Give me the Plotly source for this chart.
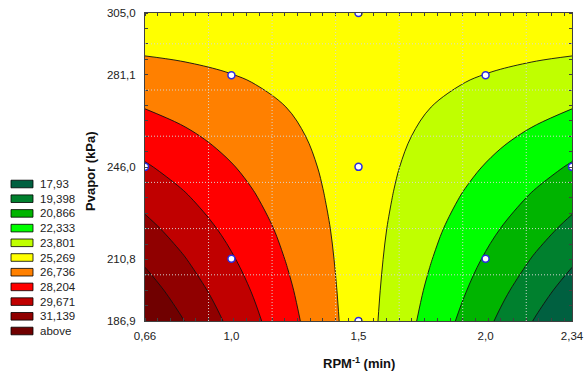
import numpy as np
import plotly.graph_objects as go

# ---------------- data ----------------
x_grid = [0.66, 0.80, 0.94, 1.08, 1.22, 1.36, 1.50, 1.64, 1.78, 1.92, 2.06, 2.20, 2.34]
y_grid = [186.9, 198.71, 210.52, 222.33, 234.14, 245.95, 257.76, 269.57, 281.38, 293.19, 305.0]
z_grid = [
    [32.63, 31.28, 29.93, 28.58, 27.23, 25.88, 24.54, 23.19, 21.84, 20.49, 19.14, 17.79, 16.44],
    [31.78, 30.57, 29.36, 28.16, 26.95, 25.74, 24.54, 23.33, 22.12, 20.92, 19.71, 18.50, 17.30],
    [30.92, 29.86, 28.79, 27.73, 26.66, 25.60, 24.54, 23.47, 22.41, 21.34, 20.28, 19.21, 18.15],
    [30.07, 29.14, 28.22, 27.30, 26.38, 25.46, 24.54, 23.61, 22.69, 21.77, 20.85, 19.93, 19.01],
    [29.21, 28.43, 27.65, 26.87, 26.09, 25.31, 24.54, 23.76, 22.98, 22.20, 21.42, 20.64, 19.86],
    [28.35, 27.72, 27.08, 26.45, 25.81, 25.17, 24.54, 23.90, 23.26, 22.63, 21.99, 21.35, 20.72],
    [27.50, 27.01, 26.51, 26.02, 25.52, 25.03, 24.54, 24.04, 23.55, 23.05, 22.56, 22.07, 21.57],
    [26.64, 26.29, 25.94, 25.59, 25.24, 24.89, 24.54, 24.18, 23.83, 23.48, 23.13, 22.78, 22.43],
    [25.79, 25.58, 25.37, 25.16, 24.95, 24.74, 24.54, 24.33, 24.12, 23.91, 23.70, 23.49, 23.28],
    [24.93, 24.87, 24.80, 24.73, 24.67, 24.60, 24.54, 24.47, 24.40, 24.34, 24.27, 24.20, 24.14],
    [24.08, 24.16, 24.23, 24.31, 24.38, 24.46, 24.54, 24.61, 24.69, 24.76, 24.84, 24.91, 24.99],
]

# design points
design_x = [1.0, 2.0, 1.5, 0.66, 1.5, 2.34, 1.0, 2.0, 1.5]
design_y = [281.1, 281.1, 305.0, 246.0, 246.0, 246.0, 210.8, 210.8, 186.9]

levels = [17.93, 19.398, 20.866, 22.333, 23.801, 25.269, 26.736, 28.204, 29.671, 31.139]
legend_labels = ["17,93", "19,398", "20,866", "22,333", "23,801", "25,269",
                 "26,736", "28,204", "29,671", "31,139", "above"]
band_colors = ["#006040", "#00802e", "#00b400", "#00ff00", "#c0ff00", "#ffff00",
               "#ff8000", "#ff0000", "#c00000", "#900000", "#700000"]

x_ticks = [0.66, 1.0, 1.5, 2.0, 2.34]
x_tick_labels = ["0,66", "1,0", "1,5", "2,0", "2,34"]
y_ticks = [186.9, 210.8, 246.0, 281.1, 305.0]
y_tick_labels = ["186,9", "210,8", "246,0", "281,1", "305,0"]

x_title = "<b>RPM<sup>-1</sup> (min)</b>"
y_title = "<b>Pvapor (kPa)</b>"

# ---------------- layout constants ----------------
W, H = 586, 378
L, R, T, B = 145, 14, 13, 57
PW, PH = W - L - R, H - T - B
FONT = "Liberation Sans, Arial, sans-serif"
TXT = "#222222"

def px_x(p):
    return (p - L) / PW

def px_y(q):
    return (T + PH - q) / PH

n_lev = len(levels)
size = (levels[-1] - levels[0]) / (n_lev - 1)
colorscale = [[i / (len(band_colors) - 1), c] for i, c in enumerate(band_colors)]

fig = go.Figure()
fig.add_trace(go.Contour(
    x=x_grid, y=y_grid, z=z_grid,
    autocontour=False,
    contours=dict(start=levels[0], end=levels[-1], size=size,
                  coloring="fill", showlines=True),
    colorscale=colorscale, showscale=False,
    line=dict(color="#111111", width=0.9, smoothing=1.0),
    hoverinfo="skip",
))
fig.add_trace(go.Scatter(
    x=design_x, y=design_y, mode="markers",
    marker=dict(size=7, color="white", line=dict(color="#2a2ae0", width=1.5)),
    cliponaxis=True, hoverinfo="skip",
))

# dotted grid lines above the fills
x0, x1 = x_ticks[0], x_ticks[-1]
y0, y1 = y_ticks[0], y_ticks[-1]
GRID_DX = 0.25
GRID_DY = 0.15 * (y1 - y0)
grid_style = dict(color="rgba(215,215,215,0.95)", width=1, dash="1px,2px")
gx = x0 + GRID_DX
while gx < x1 - 1e-6:
    fig.add_shape(type="line", xref="x", yref="paper", x0=gx, x1=gx, y0=0, y1=1,
                  line=grid_style, layer="above")
    gx += GRID_DX
gy = y0 + GRID_DY
while gy < y1 - 1e-6:
    fig.add_shape(type="line", xref="paper", yref="y", x0=0, x1=1, y0=gy, y1=gy,
                  line=grid_style, layer="above")
    gy += GRID_DY

# legend (boxes + labels)
LEG_Y0, LEG_DY = 184, 14.7
for i, (c, lab) in enumerate(zip(band_colors, legend_labels)):
    yc = LEG_Y0 + i * LEG_DY
    fig.add_shape(type="rect", xref="paper", yref="paper",
                  x0=px_x(11), x1=px_x(33), y0=px_y(yc + 3.8), y1=px_y(yc - 3.8),
                  fillcolor=c, line=dict(color="#000000", width=0.8), layer="above")
    fig.add_annotation(xref="paper", yref="paper", x=px_x(38), y=px_y(yc),
                       xanchor="left", yanchor="middle", text=lab, showarrow=False,
                       font=dict(family=FONT, size=11.5, color=TXT))

# axis titles
fig.add_annotation(xref="paper", yref="paper", x=0.5, y=px_y(363),
                   xanchor="center", yanchor="middle", text=x_title, showarrow=False,
                   font=dict(family=FONT, size=13, color="#111111"))
fig.add_annotation(xref="paper", yref="paper", x=px_x(91), y=px_y(172),
                   xanchor="center", yanchor="middle", text=y_title, showarrow=False,
                   textangle=-90, font=dict(family=FONT, size=13, color="#111111"))

axis_common = dict(showgrid=False, zeroline=False, showline=True, linecolor="#404040",
                   linewidth=1, mirror="allticks", ticks="",
                   tickfont=dict(family=FONT, size=11.5, color=TXT))
fig.update_xaxes(range=[x0, x1], tickvals=x_ticks, ticktext=x_tick_labels,
                 ticklabelstandoff=4,
                 minor=dict(ticks="inside", tick0=x0, dtick=GRID_DX / 5, ticklen=3,
                            tickcolor="#404040", showgrid=False),
                 **axis_common)
fig.update_yaxes(range=[y0, y1], tickvals=y_ticks, ticktext=y_tick_labels,
                 ticklabelstandoff=6,
                 minor=dict(ticks="inside", tick0=y0, dtick=GRID_DY / 3, ticklen=3,
                            tickcolor="#404040", showgrid=False),
                 **axis_common)

fig.update_layout(width=W, height=H, margin=dict(l=L, r=R, t=T, b=B, autoexpand=False),
                  paper_bgcolor="white", plot_bgcolor="white", showlegend=False,
                  font=dict(family=FONT, color=TXT))

fig.write_html("out.html")
